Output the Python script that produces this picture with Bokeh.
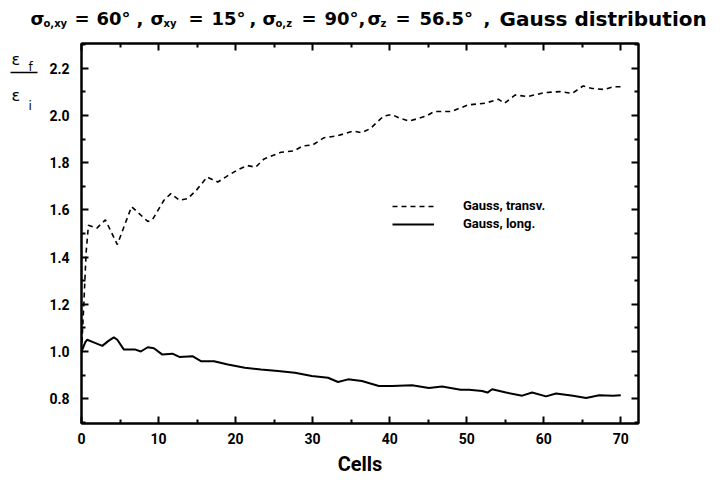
from bokeh.plotting import figure
from bokeh.layouts import column, row
from bokeh.models import (Range1d, LinearAxis, Legend, LegendItem, FixedTicker,
                          PrintfTickFormatter)
from bokeh.core.properties import value
from bokeh.embed import file_html
from bokeh.resources import INLINE

# ---- data ----
x_transv = [0, 0.3, 0.6, 0.9, 2.0, 3.1, 4.65, 6.5, 8.6, 9.2, 10.7, 11.6, 12.7, 13.8,
            14.9, 16.3, 17.7, 19.0, 20.3, 21.5, 22.6, 23.7, 25.9, 27.6, 28.7, 30.0,
            31.5, 33.1, 35.3, 36.4, 37.5, 39.2, 40.3, 41.2, 42.5, 44.7, 45.8, 48.0,
            50.2, 52.4, 54.1, 54.9, 56.3, 57.9, 60.1, 62.1, 63.7, 65.1, 66.2, 67.9,
            69.0, 70.0]
y_transv = [1.0, 1.2, 1.42, 1.535, 1.523, 1.558, 1.453, 1.614, 1.551, 1.558, 1.641,
            1.669, 1.641, 1.648, 1.683, 1.739, 1.718, 1.745, 1.77, 1.788, 1.781, 1.816,
            1.844, 1.85, 1.871, 1.875, 1.906, 1.913, 1.934, 1.927, 1.945, 1.997, 2.004,
            1.99, 1.976, 1.997, 2.017, 2.017, 2.045, 2.052, 2.069, 2.052, 2.087, 2.08,
            2.097, 2.101, 2.094, 2.125, 2.115, 2.11, 2.122, 2.122]

x_long = [0, 0.5, 0.75, 1.5, 2.7, 3.5, 4.2, 4.65, 5.5, 7.0, 7.7, 8.6, 9.4, 10.5, 11.8,
          12.7, 14.4, 15.5, 17.2, 19.0, 21.2, 23.3, 25.5, 27.7, 29.9, 32.0, 33.3, 34.6,
          36.4, 38.6, 40.3, 42.9, 45.1, 46.8, 49.2, 50.3, 52.0, 52.7, 53.3, 55.1, 57.2,
          58.5, 60.3, 61.6, 63.8, 65.5, 67.2, 69.0, 70.0]
y_long = [1.0, 1.04, 1.05, 1.04, 1.024, 1.045, 1.06, 1.05, 1.008, 1.008, 1.0, 1.018,
          1.014, 0.987, 0.991, 0.977, 0.98, 0.959, 0.959, 0.945, 0.931, 0.924, 0.917,
          0.91, 0.896, 0.889, 0.871, 0.882, 0.875, 0.854, 0.854, 0.857, 0.845, 0.852,
          0.838, 0.838, 0.833, 0.826, 0.84, 0.826, 0.813, 0.826, 0.81, 0.822, 0.813,
          0.803, 0.815, 0.813, 0.815]

x_ticks = [0, 10, 20, 30, 40, 50, 60, 70]
x_minor = [5, 15, 25, 35, 45, 55, 65]
y_ticks = [0.8, 1.0, 1.2, 1.4, 1.6, 1.8, 2.0, 2.2]
y_minor = [0.7, 0.9, 1.1, 1.3, 1.5, 1.7, 1.9, 2.1, 2.3]
series_names = ["Gauss, transv.", "Gauss, long."]
x_label = "Cells"

# title pieces: (text, kind) kind: "m" main, "s" subscript, "w" words
title_parts = [("σ", "m"), ("o,xy", "s"), ("=", "m"), ("60°", "m"), (",", "m"),
               ("σ", "m"), ("xy", "s"), ("=", "m"), ("15°", "m"), (",", "m"),
               ("σ", "m"), ("o,z", "s"), ("=", "m"), ("90°", "m"), (",", "m"),
               ("σ", "m"), ("z", "s"), ("=", "m"), ("56.5°", "m"), (",", "m"),
               ("Gauss distribution", "w")]
title_x = [30, 43, 74, 96, 136,
           150, 163, 188, 211, 249,
           262, 275, 301, 324, 358,
           367, 380, 395, 419, 483,
           499]

FONT = "Roboto"
TFONT = "DejaVu Sans"
W, H = 722, 478
TITLE_H = 33
YL_W = 44


def bare(fig):
    fig.axis.visible = False
    fig.grid.visible = False
    fig.outline_line_color = None
    fig.min_border = 0
    fig.border_fill_color = "white"
    fig.background_fill_color = "white"
    return fig


# ---- title strip ----
t = bare(figure(width=W, height=TITLE_H, output_backend="svg", toolbar_location=None,
                x_range=Range1d(0, W), y_range=Range1d(TITLE_H, 0)))
for kind, size, base in (("m", "18px", 18), ("s", "10px", 23), ("w", "20px", 18)):
    xs = [x for x, (s, k) in zip(title_x, title_parts) if k == kind]
    ts = [s for s, k in title_parts if k == kind]
    t.text(x=xs, y=[base] * len(xs), text=ts, text_font=value(TFONT),
           text_font_size=value(size), text_font_style="bold",
           text_baseline="alphabetic", text_color="black")

# ---- y label strip (fraction eps_f / eps_i) ----
PH = H - TITLE_H
yl = bare(figure(width=YL_W, height=PH, output_backend="svg", toolbar_location=None,
                 x_range=Range1d(0, YL_W), y_range=Range1d(PH, 0)))
off = TITLE_H
yl.text(x=[11, 11], y=[52 - off, 94 - off], text=["ε", "ε"], text_font=value(TFONT),
        text_font_size=value("16px"), text_baseline="alphabetic", text_color="black")
yl.text(x=[28, 28], y=[61 - off, 106 - off], text=["f", "i"], text_font=value(TFONT),
        text_font_size=value("12px"), text_baseline="alphabetic", text_color="black")
yl.segment(x0=[10], y0=[67 - off], x1=[37], y1=[67 - off], line_color="black",
           line_width=1.5)

# ---- main plot ----
p = figure(width=W - YL_W, height=PH, output_backend="svg", toolbar_location=None,
           x_range=Range1d(0, 72.3), y_range=Range1d(0.695, 2.305),
           min_border_left=81 - YL_W, min_border_right=W - 638,
           min_border_top=43 - TITLE_H, min_border_bottom=H - 428)
p.grid.visible = False
p.outline_line_color = "black"
p.outline_line_width = 2
p.background_fill_color = "white"
p.border_fill_color = "white"


def style_axis(ax, show_labels):
    ax.axis_line_width = 2
    ax.axis_line_color = "black"
    ax.major_tick_in = 7
    ax.major_tick_out = 0
    ax.minor_tick_in = 4
    ax.minor_tick_out = 0
    ax.major_tick_line_width = 2
    ax.minor_tick_line_width = 2
    ax.major_label_text_font = FONT
    ax.major_label_text_font_style = "bold"
    if show_labels:
        ax.major_label_text_font_size = "14px"
        ax.major_label_text_color = "black"
    else:
        ax.major_label_text_font_size = "0px"
        ax.major_label_text_color = None
        ax.major_label_standoff = 0


for ax in p.xaxis:
    ax.ticker = FixedTicker(ticks=x_ticks, minor_ticks=x_minor)
    style_axis(ax, True)
    ax.major_label_standoff = 9
    ax.axis_label = x_label
    ax.axis_label_text_font = FONT
    ax.axis_label_text_font_style = "bold"
    ax.axis_label_text_font_size = "20px"
    ax.axis_label_text_color = "black"
    ax.axis_label_standoff = 5
for ax in p.yaxis:
    ax.ticker = FixedTicker(ticks=y_ticks, minor_ticks=y_minor)
    ax.formatter = PrintfTickFormatter(format="%.1f")
    style_axis(ax, True)
    ax.major_label_standoff = 12

top = LinearAxis(ticker=FixedTicker(ticks=x_ticks, minor_ticks=x_minor))
style_axis(top, False)
p.add_layout(top, "above")
right = LinearAxis(ticker=FixedTicker(ticks=y_ticks, minor_ticks=y_minor))
style_axis(right, False)
p.add_layout(right, "right")

r1 = p.line(x_transv, y_transv, line_color="black", line_width=1.6, line_dash="5 4")
r2 = p.line(x_long, y_long, line_color="black", line_width=2)

legend = Legend(items=[LegendItem(label=series_names[0], renderers=[r1]),
                       LegendItem(label=series_names[1], renderers=[r2])],
                location=(311, 192), padding=0, margin=0, spacing=3,
                glyph_width=42, glyph_height=14, label_height=14,
                label_standoff=29, border_line_color=None,
                background_fill_alpha=0,
                label_text_font=FONT, label_text_font_size="13px",
                label_text_font_style="bold", label_text_color="black")
p.add_layout(legend)

layout = column(t, row(yl, p, spacing=0), spacing=0)
open("out.html", "w").write(file_html(layout, INLINE))
